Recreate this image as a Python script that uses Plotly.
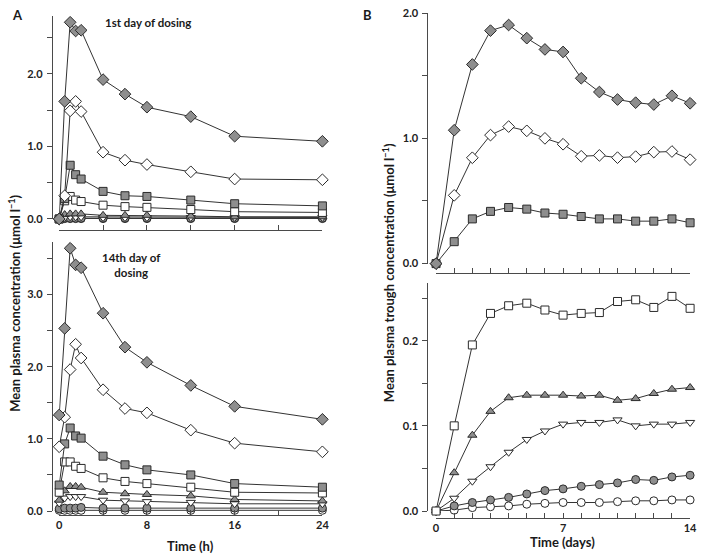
import plotly.graph_objects as go

# ---------------- data ----------------
times_h = [0, 0.5, 1, 1.5, 2, 4, 6, 8, 12, 16, 24]
days = list(range(15))

# Panel A, 1st day of dosing (umol/l)
d1_grey_diamond = [0, 1.62, 2.71, 2.59, 2.60, 1.92, 1.72, 1.54, 1.41, 1.14, 1.07]
d1_white_diamond = [0, 0.32, 1.49, 1.62, 1.48, 0.92, 0.81, 0.75, 0.65, 0.55, 0.54]
d1_grey_square = [0, 0.28, 0.74, 0.61, 0.55, 0.38, 0.32, 0.31, 0.26, 0.21, 0.18]
d1_white_square = [0, 0.25, 0.31, 0.26, 0.24, 0.19, 0.17, 0.16, 0.13, 0.10, 0.09]
d1_grey_tri = [0, 0.06, 0.07, 0.07, 0.07, 0.05, 0.05, 0.05, 0.04, 0.03, 0.03]
d1_white_invtri = [0, 0.02, 0.03, 0.03, 0.03, 0.02, 0.02, 0.02, 0.02, 0.02, 0.02]
d1_grey_circle = [0, 0.01, 0.01, 0.01, 0.01, 0.01, 0.01, 0.01, 0.01, 0.01, 0.01]
d1_white_circle = [0, 0.005, 0.005, 0.005, 0.005, 0.005, 0.005, 0.005, 0.005, 0.005, 0.005]

# Panel A, 14th day of dosing
d14_grey_diamond = [1.33, 2.53, 3.64, 3.41, 3.37, 2.74, 2.27, 2.06, 1.74, 1.45, 1.27]
d14_white_diamond = [0.89, 1.30, 1.96, 2.31, 2.12, 1.68, 1.42, 1.36, 1.12, 0.94, 0.82]
d14_grey_square = [0.36, 0.93, 1.15, 1.04, 1.01, 0.76, 0.64, 0.57, 0.50, 0.38, 0.33]
d14_white_square = [0.26, 0.68, 0.68, 0.62, 0.59, 0.46, 0.41, 0.38, 0.33, 0.26, 0.25]
d14_grey_tri = [0.15, 0.28, 0.34, 0.34, 0.33, 0.26, 0.24, 0.23, 0.21, 0.16, 0.14]
d14_white_invtri = [0.11, 0.18, 0.20, 0.20, 0.20, 0.15, 0.14, 0.13, 0.12, 0.10, 0.10]
d14_grey_circle = [0.03, 0.04, 0.04, 0.04, 0.05, 0.04, 0.04, 0.04, 0.04, 0.04, 0.04]
d14_white_circle = [0.01, 0.01, 0.01, 0.01, 0.01, 0.01, 0.01, 0.01, 0.01, 0.01, 0.01]

# Panel B, trough concentrations by day
tr_grey_diamond = [0, 1.065, 1.59, 1.86, 1.905, 1.80, 1.71, 1.69, 1.48, 1.37, 1.31, 1.285, 1.27, 1.34, 1.28]
tr_white_diamond = [0, 0.545, 0.845, 1.026, 1.094, 1.06, 1.00, 0.953, 0.857, 0.864, 0.846, 0.854, 0.89, 0.895, 0.83]
tr_grey_square = [0, 0.175, 0.357, 0.417, 0.448, 0.435, 0.404, 0.394, 0.376, 0.357, 0.357, 0.339, 0.339, 0.357, 0.326]
tr_white_square = [0, 0.10, 0.195, 0.232, 0.241, 0.244, 0.236, 0.230, 0.232, 0.233, 0.246, 0.248, 0.239, 0.252, 0.238]
tr_grey_tri = [0, 0.045, 0.089, 0.117, 0.133, 0.136, 0.136, 0.136, 0.135, 0.136, 0.130, 0.132, 0.138, 0.143, 0.145]
tr_white_invtri = [0, 0.015, 0.035, 0.052, 0.069, 0.084, 0.094, 0.102, 0.104, 0.104, 0.107, 0.100, 0.102, 0.102, 0.104]
tr_grey_circle = [0, 0.006, 0.010, 0.013, 0.016, 0.020, 0.024, 0.026, 0.029, 0.031, 0.033, 0.037, 0.036, 0.040, 0.042]
tr_white_circle = [0, 0.001, 0.004, 0.005, 0.006, 0.008, 0.009, 0.010, 0.010, 0.010, 0.011, 0.012, 0.012, 0.013, 0.013]

# tick labels
a_x_ticks = [0, 8, 16, 24]
b_x_ticks = [0, 7, 14]
a_top_y_ticks = [0, 1, 2]
a_bot_y_ticks = [0, 1, 2, 3]
b_top_y_ticks = [0, 1, 2]
b_bot_y_ticks = [0, 0.1, 0.2]

# ---------------- styling ----------------
W, H = 704, 560
GREY = "#8e8e8e"
WHITE = "#ffffff"
EDGE = "#2a2a2a"
LINE = "#333333"
AX = "#4a4a4a"
FONT = "Lato"

STYLES = {
    "grey_diamond": ("diamond", GREY, 9),
    "white_diamond": ("diamond", WHITE, 9),
    "grey_square": ("square", GREY, 8),
    "white_square": ("square", WHITE, 8),
    "grey_tri": ("triangle-up", GREY, 8),
    "white_invtri": ("triangle-down", WHITE, 8),
    "grey_circle": ("circle", GREY, 8),
    "white_circle": ("circle", WHITE, 8),
}


def px_x(p):
    return p / W


def px_y(p):
    return 1 - p / H


fig = go.Figure()


def add(x, y, key, xa, ya):
    sym, fill, size = STYLES[key]
    fig.add_trace(go.Scatter(
        x=x, y=y, mode="lines+markers", xaxis=xa, yaxis=ya,
        line=dict(color=LINE, width=1),
        marker=dict(symbol=sym, color=fill, size=size, line=dict(color=EDGE, width=1)),
        cliponaxis=False, showlegend=False, hoverinfo="x+y",
    ))


order = ["white_circle", "grey_circle", "white_invtri", "grey_tri",
         "white_square", "grey_square", "white_diamond", "grey_diamond"]
day1 = dict(grey_diamond=d1_grey_diamond, white_diamond=d1_white_diamond,
            grey_square=d1_grey_square, white_square=d1_white_square,
            grey_tri=d1_grey_tri, white_invtri=d1_white_invtri,
            grey_circle=d1_grey_circle, white_circle=d1_white_circle)
day14 = dict(grey_diamond=d14_grey_diamond, white_diamond=d14_white_diamond,
             grey_square=d14_grey_square, white_square=d14_white_square,
             grey_tri=d14_grey_tri, white_invtri=d14_white_invtri,
             grey_circle=d14_grey_circle, white_circle=d14_white_circle)
trough_hi = dict(grey_square=tr_grey_square, white_diamond=tr_white_diamond,
                 grey_diamond=tr_grey_diamond)
trough_lo = dict(white_circle=tr_white_circle, grey_circle=tr_grey_circle,
                 white_invtri=tr_white_invtri, grey_tri=tr_grey_tri,
                 white_square=tr_white_square)

for k in order:
    add(times_h, day1[k], k, "x", "y")
for k in order:
    add(times_h, day14[k], k, "x2", "y2")
for k in ["grey_square", "white_diamond", "grey_diamond"]:
    add(days, trough_hi[k], k, "x3", "y3")
for k in ["white_circle", "grey_circle", "white_invtri", "grey_tri", "white_square"]:
    add(days, trough_lo[k], k, "x4", "y4")

tickfont = dict(family=FONT, size=11, color="#222", weight="bold")


def xaxis(dom_px, rng, line_px, ticks, minor, labels):
    return dict(
        domain=[px_x(dom_px[0]), px_x(dom_px[1])], range=rng, anchor="free",
        position=px_y(line_px), showgrid=False, zeroline=False,
        showline=True, linecolor=AX, linewidth=1,
        ticks="inside", ticklen=5, tickcolor=AX, tickwidth=1,
        tickmode="array", tickvals=ticks, ticktext=[str(t) for t in ticks],
        minor=dict(dtick=minor, tick0=0, ticks="inside", ticklen=5, tickcolor=AX,
                   tickwidth=1, showgrid=False),
        showticklabels=labels, tickfont=tickfont, ticklabelstandoff=0,
        ticklabeloverflow="allow",
    )


def yaxis(top_px, bot_px, rng, line_px, ticks, minor):
    return dict(
        domain=[px_y(bot_px), px_y(top_px)], range=rng, anchor="free",
        position=px_x(line_px), showgrid=False, zeroline=False,
        showline=True, linecolor=AX, linewidth=1,
        ticks="outside", ticklen=5, tickcolor=AX, tickwidth=1,
        tickmode="array", tickvals=ticks, ticktext=[f"{t:.1f}" for t in ticks],
        minor=dict(dtick=minor, tick0=0, ticks="outside", ticklen=5, tickcolor=AX,
                   tickwidth=1, showgrid=False),
        tickfont=tickfont, ticklabelstandoff=2, ticklabeloverflow="allow",
    )


# pixel calibration
tl_y0, tl_s, tl_top = 217.0, 74.3, 2.8
bl_y0, bl_s, bl_top = 516.0, 73.9, 3.73
tr_y0, tr_s, tr_top = 262.7, 128.35, 2.0
br_y0, br_s, br_top = 516.0, 872.0, 0.268

fig.update_layout(
    width=W, height=H, margin=dict(l=0, r=0, t=0, b=0),
    paper_bgcolor="white", plot_bgcolor="white",
    xaxis=xaxis((57, 324), [0, 24], 228, a_x_ticks, 4, False),
    yaxis=yaxis(tl_y0 - tl_top * tl_s, tl_y0, [0, tl_top], 49.5, a_top_y_ticks, 0.5),
    xaxis2=xaxis((57, 324), [0, 24], 520, a_x_ticks, 4, True),
    yaxis2=yaxis(bl_y0 - bl_top * bl_s, bl_y0, [0, bl_top], 49.5, a_bot_y_ticks, 0.5),
    xaxis3=xaxis((439.3, 697), [0, 14], 272.3, b_x_ticks, 1, False),
    yaxis3=yaxis(tr_y0 - tr_top * tr_s, tr_y0, [0, tr_top + 0.002], 430.5, b_top_y_ticks, 0.5),
    xaxis4=xaxis((439.3, 697), [0, 14], 523, b_x_ticks, 1, True),
    yaxis4=yaxis(br_y0 - br_top * br_s, br_y0, [0, br_top], 430.5, b_bot_y_ticks, 0.05),
)


def text(x, y, s, size=12, angle=0):
    fig.add_annotation(
        x=px_x(x), y=px_y(y), xref="paper", yref="paper", text=s, showarrow=False,
        textangle=angle, xanchor="center", yanchor="middle",
        font=dict(family=FONT, size=size, color="#1a1a1a", weight="bold"),
    )


text(15, 8, "A", 13)
text(370, 8, "B", 13)
text(147, 16, "1st day of dosing", 11.5)
text(130, 264, "14th day of<br>dosing", 11.5)
text(190, 552, "Time (h)", 13)
text(568, 548, "Time (days)", 13)
text(12, 303, "Mean plasma concentration (μmol l<sup>−1</sup>)", 13, -90)
text(391, 272, "Mean plasma trough concentration (μmol l<sup>−1</sup>)", 13, -90)

# remove the browser's default 8px page margin so the 704x560 figure fills the window
fig.write_html(
    "out.html",
    config={"displayModeBar": False},
    post_script="document.body.style.margin='0';document.body.style.overflow='hidden';",
)
